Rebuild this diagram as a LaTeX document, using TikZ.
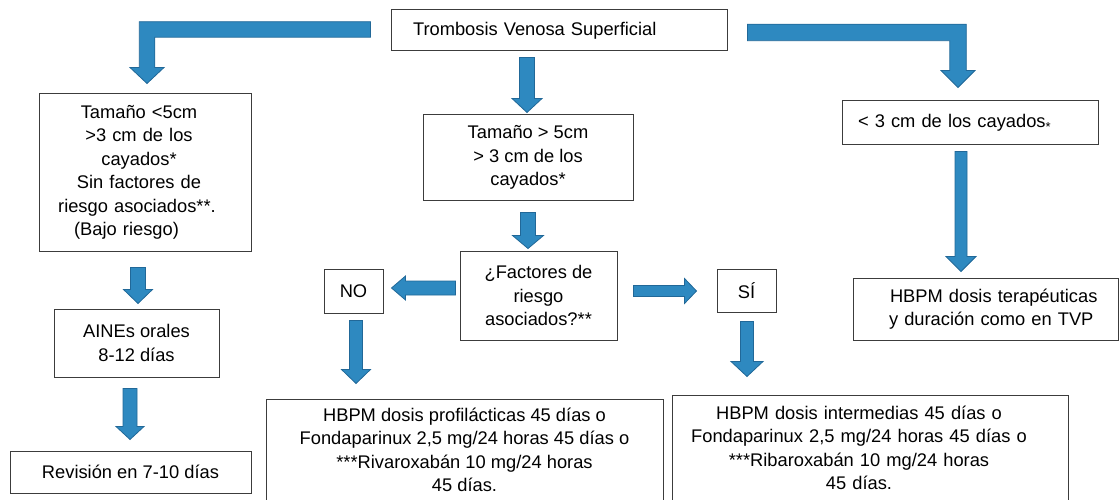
\documentclass[tikz,border=0pt]{standalone}
\usepackage{fontspec}
\setmainfont{Liberation Sans}
\usetikzlibrary{calc}

\definecolor{arrowfill}{RGB}{46,137,192}
\definecolor{arrowline}{RGB}{33,104,152}
\definecolor{boxline}{RGB}{60,60,60}

\tikzset{
  box/.style={draw=boxline, line width=1pt, inner sep=0pt, align=center, fill=white},
  barsw/.store in=\barsw, barhw/.store in=\barhw, barhl/.store in=\barhl,
  arrowbase/.style={draw=arrowline, fill=arrowfill, line width=0.8pt, line join=miter},
  % straight block arrow pointing down (x taken from the start point)
  blockdown/.style={arrowbase, to path={let \p1=(\tikztostart), \p2=(\tikztotarget) in
    ({\x1-\barsw},\y1) -- ({\x1-\barsw},{\y2+\barhl}) -- ({\x1-\barhw},{\y2+\barhl}) -- (\x1,\y2)
    -- ({\x1+\barhw},{\y2+\barhl}) -- ({\x1+\barsw},{\y2+\barhl}) -- ({\x1+\barsw},\y1) -- cycle}},
  % straight block arrows pointing right / left (y taken from the start point)
  blockright/.style={arrowbase, to path={let \p1=(\tikztostart), \p2=(\tikztotarget) in
    (\x1,{\y1+\barsw}) -- ({\x2-\barhl},{\y1+\barsw}) -- ({\x2-\barhl},{\y1+\barhw}) -- (\x2,\y1)
    -- ({\x2-\barhl},{\y1-\barhw}) -- ({\x2-\barhl},{\y1-\barsw}) -- (\x1,{\y1-\barsw}) -- cycle}},
  blockleft/.style={arrowbase, to path={let \p1=(\tikztostart), \p2=(\tikztotarget) in
    (\x1,{\y1+\barsw}) -- ({\x2+\barhl},{\y1+\barsw}) -- ({\x2+\barhl},{\y1+\barhw}) -- (\x2,\y1)
    -- ({\x2+\barhl},{\y1-\barhw}) -- ({\x2+\barhl},{\y1-\barsw}) -- (\x1,{\y1-\barsw}) -- cycle}},
  % bent block arrows: horizontal run, then down to the target
  benddownleft/.style={arrowbase, to path={let \p1=(\tikztostart), \p2=(\tikztotarget) in
    (\x1,{\y1+\barsw}) -- ({\x2-\barsw},{\y1+\barsw}) -- ({\x2-\barsw},{\y2+\barhl})
    -- ({\x2-\barhw},{\y2+\barhl}) -- (\x2,\y2) -- ({\x2+\barhw},{\y2+\barhl})
    -- ({\x2+\barsw},{\y2+\barhl}) -- ({\x2+\barsw},{\y1-\barsw}) -- (\x1,{\y1-\barsw}) -- cycle}},
  benddownright/.style={arrowbase, to path={let \p1=(\tikztostart), \p2=(\tikztotarget) in
    (\x1,{\y1+\barsw}) -- ({\x2+\barsw},{\y1+\barsw}) -- ({\x2+\barsw},{\y2+\barhl})
    -- ({\x2+\barhw},{\y2+\barhl}) -- (\x2,\y2) -- ({\x2-\barhw},{\y2+\barhl})
    -- ({\x2-\barsw},{\y2+\barhl}) -- ({\x2-\barsw},{\y1-\barsw}) -- (\x1,{\y1-\barsw}) -- cycle}},
}

\begin{document}
\begin{tikzpicture}[x=1pt, y=-1pt,
  every node/.style={font=\fontsize{18.3pt}{23.5pt}\selectfont}]
\useasboundingbox (0,0) rectangle (1119,500);

% ---- boxes ----
\node[box, minimum width=336pt, minimum height=41pt, text width=292pt, inner xsep=22pt, align=left]
  (top) at (559,30.5) {Trombosis Venosa Superficial};

\node[box, minimum width=212pt, minimum height=157pt, text width=212pt] (box1) at (145,172.5)
  {\hspace*{-12pt}Tamaño <5cm\\ \hspace*{-12pt}>3 cm de los\\ \hspace*{-12pt}cayados*\\
   \hspace*{-12pt}Sin factores de\\ \hspace*{-16pt}riesgo asociados**.\\ \hspace*{-37pt}(Bajo riesgo)};

\node[box, minimum width=210pt, minimum height=85pt] (mid) at (528,157.5)
  {Tamaño > 5cm\\ > 3 cm de los\\ cayados*};

\node[box, minimum width=157pt, minimum height=89pt] (fac) at (538.5,295.5)
  {¿Factores de\\ riesgo\\ asociados?**};

\node[box, minimum width=59pt, minimum height=44pt] (nobox) at (353.5,291) {NO};
\node[box, minimum width=59pt, minimum height=43pt] (sibox) at (746.5,290.5) {SÍ};

\node[box, minimum width=256pt, minimum height=44pt, text width=224pt, inner xsep=16pt, align=left]
  (rbox) at (970,123) {< 3 cm de los cayados{\fontsize{13pt}{13pt}\selectfont\raisebox{-4pt}{*}}};

\node[box, minimum width=265pt, minimum height=62pt, text width=265pt, align=left]
  (terap) at (985.5,309)
  {\hspace*{37pt}HBPM dosis terapéuticas\\ \hspace*{36pt}y duración como en TVP};

\node[box, minimum width=165pt, minimum height=68pt] (ains) at (136.5,343)
  {AINEs orales\\ 8-12 días};

\node[box, minimum width=241pt, minimum height=42pt] (rev) at (130.5,472)
  {Revisión en 7-10 días};

\node[box, minimum width=397pt, minimum height=102pt] (prof) at (464.5,450)
  {HBPM dosis profilácticas 45 días o\\ Fondaparinux 2,5 mg/24 horas 45 días o\\
   ***Rivaroxabán 10 mg/24 horas\\ 45 días.};

\node[box, minimum width=396pt, minimum height=106pt, text width=396pt] (inter) at (870,448)
  {\hspace*{-22pt}HBPM dosis intermedias 45 días o\\ \hspace*{-22pt}Fondaparinux 2,5 mg/24 horas 45 días o\\
   \hspace*{-22pt}***Ribaroxabán 10 mg/24 horas\\ \hspace*{-22pt}45 días.};

% ---- arrow end points ----
\coordinate (tl-s) at ($(top.west)+(-20,-1)$);
\coordinate (tl-e) at ($(box1.north)+(2,-10)$);
\coordinate (tr-s) at ($(top.east)+(20,2)$);
\coordinate (tr-e) at ($(rbox.north)+(-12,-13)$);
\coordinate (a1s) at ($(mid.north |- top.south)+(-1,6)$);
\coordinate (a1e) at ($(mid.north)+(-1,-2)$);
\coordinate (a2s) at ($(mid.south)+(0,12)$);
\coordinate (a2e) at ($(fac.north -| mid.south)+(0,-2)$);
\coordinate (a3s) at ($(fac.west)+(-4,-7.5)$);
\coordinate (a3e) at ($(nobox.east)+(8,-3)$);
\coordinate (a4s) at ($(fac.east)+(16,-4.5)$);
\coordinate (a4e) at ($(sibox.west)+(-20,0)$);
\coordinate (a5s) at ($(nobox.south)+(2.5,7)$);
\coordinate (a5e) at ($(nobox.south |- prof.north)+(2.5,-15)$);
\coordinate (a6s) at ($(sibox.south)+(0.5,9)$);
\coordinate (a6e) at ($(sibox.south |- inter.north)+(0.5,-18)$);
\coordinate (a7s) at ($(rbox.south)+(-9,6)$);
\coordinate (a7e) at ($(rbox.south |- terap.north)+(-9,-6)$);
\coordinate (a8s) at ($(box1.south)+(-7,16)$);
\coordinate (a8e) at ($(ains.north)+(1.5,-5)$);
\coordinate (a9s) at ($(ains.south)+(-6.5,11)$);
\coordinate (a9e) at ($(rev.north)+(-0.5,-11)$);

% ---- block arrows ----
\path[benddownleft, barsw=7.75pt, barhw=17pt, barhl=16pt] (tl-s) to (tl-e);
\path[benddownright, barsw=8.25pt, barhw=17pt, barhl=17pt] (tr-s) to (tr-e);
\path[blockdown, barsw=7.5pt, barhw=15pt, barhl=14pt] (a1s) to (a1e);
\path[blockdown, barsw=7.5pt, barhw=15.5pt, barhl=13pt] (a2s) to (a2e);
\path[blockleft, barsw=7pt, barhw=12pt, barhl=14pt] (a3s) to (a3e);
\path[blockright, barsw=5.5pt, barhw=12.5pt, barhl=12pt] (a4s) to (a4e);
\path[blockdown, barsw=6.5pt, barhw=14.5pt, barhl=14pt] (a5s) to (a5e);
\path[blockdown, barsw=6.5pt, barhw=16pt, barhl=15pt] (a6s) to (a6e);
\path[blockdown, barsw=6pt, barhw=15pt, barhl=15pt] (a7s) to (a7e);
\path[blockdown, barsw=7.5pt, barhw=14.5pt, barhl=14pt] (a8s) to (a8e);
\path[blockdown, barsw=7pt, barhw=14pt, barhl=13pt] (a9s) to (a9e);
\end{tikzpicture}
\end{document}
